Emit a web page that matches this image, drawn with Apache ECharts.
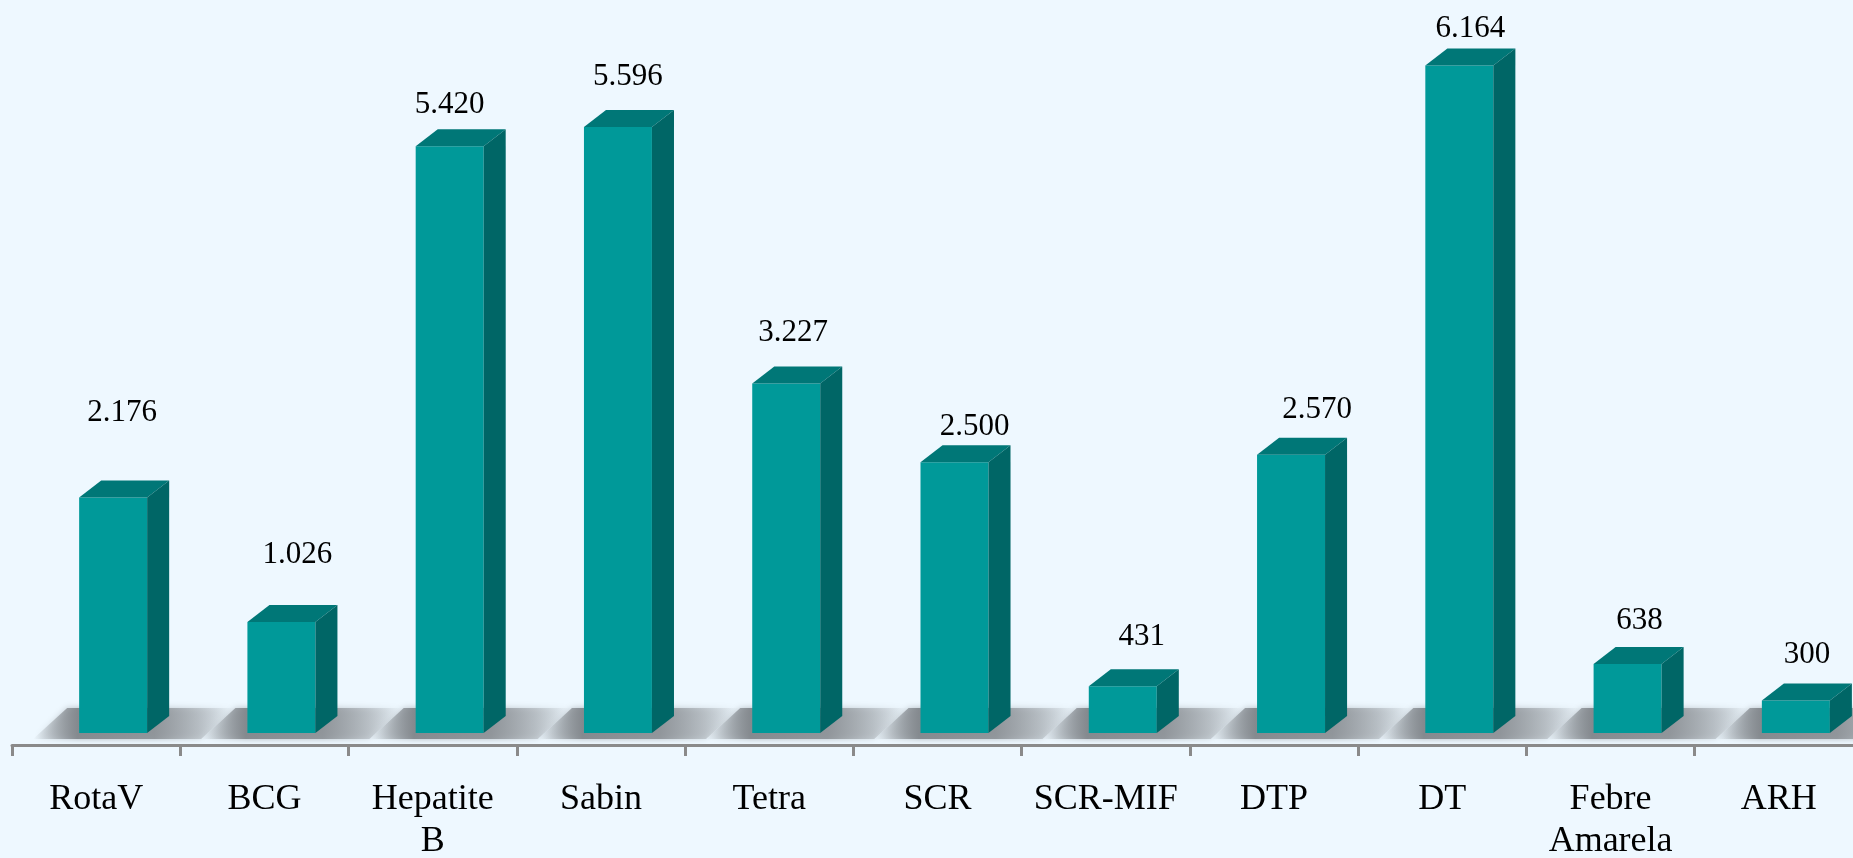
<!DOCTYPE html>
<html>
<head>
<meta charset="utf-8">
<script src="https://cdn.jsdelivr.net/npm/echarts@6/dist/echarts.min.js"></script>
<style>
  html, body { margin: 0; padding: 0; background: #eef8ff; overflow: hidden; }
  #chart { width: 1880px; height: 858px; }
</style>
</head>
<body>
<div id="chart"></div>
<script>
var categories = ['RotaV', 'BCG', 'Hepatite B', 'Sabin', 'Tetra', 'SCR', 'SCR-MIF', 'DTP', 'DT', 'Febre Amarela', 'ARH'];
var doses = [2176, 1026, 5420, 5596, 3227, 2500, 431, 2570, 6164, 638, 300];

// value labels were hand placed in the original: nudge left/right, lift above the bar top (px)
var labelNudgeX = [-2, 5, -11, -1, -4, 9, 8, 15, 0, 1, 0];
var labelLift = [85, 67, 41, 50, 51, 35, 49, 45, 37, 43, 46];

function fmt(v) {
    // pt-BR thousands separator
    return String(v).replace(/\B(?=(\d{3})+(?!\d))/g, '.');
}

var chart = echarts.init(document.getElementById('chart'));

function barGeom(api, i) {
    var base = api.coord([i, 0]);
    var top = api.coord([i, api.value(1)]);
    var band = api.size([1, 0])[0];
    return {
        left: base[0] - band * 0.101,
        w: band * 0.404,
        y0: base[1],
        y1: top[1],
        dx: band * 0.131,
        dy: band * 0.101
    };
}

function renderShadow(params, api) {
    var g = barGeom(api, params.dataIndex);
    var x0 = g.left, xs = g.left + g.w + g.dx;
    var yb = g.y0 + 6, yt = g.y0 - 25;
    return {
        type: 'polygon',
        shape: { points: [[x0 - 46, yb], [x0 - 12, yt], [xs + 66, yt], [xs + 32, yb]] },
        style: {
            fill: new echarts.graphic.LinearGradient(0, 0, 1, 0, [
                { offset: 0, color: 'rgba(130,135,140,0)' },
                { offset: 0.22, color: 'rgba(130,135,140,0.95)' },
                { offset: 0.6, color: 'rgba(140,145,150,0.9)' },
                { offset: 0.82, color: 'rgba(150,155,160,0.45)' },
                { offset: 1, color: 'rgba(150,155,160,0)' }
            ]),
            shadowBlur: 6,
            shadowColor: 'rgba(130,135,140,0.6)'
        }
    };
}

function renderBar(params, api) {
    var i = params.dataIndex;
    var g = barGeom(api, i);
    var x0 = g.left, x1 = g.left + g.w;
    return {
        type: 'group',
        children: [
            {
                type: 'rect',
                shape: { x: x0, y: g.y1, width: g.w, height: g.y0 - g.y1 },
                style: { fill: '#009999' }
            },
            {
                type: 'polygon',
                shape: { points: [[x0, g.y1], [x0 + g.dx, g.y1 - g.dy], [x1 + g.dx, g.y1 - g.dy], [x1, g.y1]] },
                style: { fill: '#007777' }
            },
            {
                type: 'polygon',
                shape: { points: [[x1, g.y1], [x1 + g.dx, g.y1 - g.dy], [x1 + g.dx, g.y0 - g.dy], [x1, g.y0]] },
                style: { fill: '#006666' }
            },
            {
                type: 'text',
                x: (x0 + x1 + g.dx) / 2 + labelNudgeX[i],
                y: g.y1 - labelLift[i],
                style: {
                    text: fmt(api.value(1)),
                    fill: '#000',
                    font: '31px "Liberation Serif"',
                    align: 'center',
                    verticalAlign: 'middle',
                    textAlign: 'center',
                    textVerticalAlign: 'middle'
                }
            }
        ]
    };
}

var seriesData = doses.map(function (v, i) { return [i, v]; });

chart.setOption({
    backgroundColor: '#eef8ff',
    animation: false,
    grid: { left: 12, right: 17, top: 0, bottom: 125, outerBoundsMode: 'none' },
    xAxis: {
        type: 'category',
        data: categories,
        position: 'bottom',
        offset: 12,
        boundaryGap: true,
        axisLine: { show: true, onZero: false, lineStyle: { color: '#8a8a8a', width: 3 } },
        axisTick: { show: true, interval: 0, length: 11, lineStyle: { color: '#8a8a8a', width: 3 } },
        axisLabel: {
            show: true,
            margin: 34,
            interval: 0,
            color: '#000',
            fontFamily: 'Liberation Serif',
            fontSize: 36,
            lineHeight: 42,
            formatter: function (v) { return v.replace(' ', '\n'); }
        },
        splitLine: { show: false }
    },
    yAxis: { type: 'value', min: 0, max: 6770, show: false },
    series: [
        {
            type: 'custom',
            renderItem: renderShadow,
            encode: { x: 0, y: 1 },
            data: seriesData,
            z: 1
        },
        {
            type: 'custom',
            renderItem: renderBar,
            encode: { x: 0, y: 1 },
            data: seriesData,
            z: 2
        }
    ]
});
</script>
</body>
</html>
